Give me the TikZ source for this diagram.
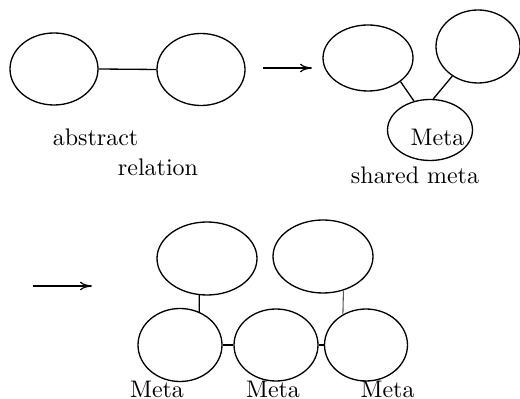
\documentclass[tikz,border=0pt]{standalone}
\usetikzlibrary{shapes.geometric,arrows.meta}
\def\pxu{0.417pt}
\tikzset{
  oval/.style 2 args={ellipse, draw, line width=0.55pt, inner sep=0pt,
    minimum width=#1*\pxu, minimum height=#2*\pxu},
  link/.style={line width=0.55pt},
  faint/.style={line width=0.45pt, black!65},
  step arrow/.style={line width=0.5pt, -{To[length=5pt, width=3.6pt]}},
  txt/.style={inner sep=0pt, font=\normalsize},
}
\begin{document}
\begin{tikzpicture}[x=\pxu, y=-\pxu]
  \useasboundingbox (0,0) rectangle (520,399);

  % abstract relation between two objects
  \node[oval={88}{72}] (a1) at (54,69) {};
  \node[oval={88}{72}] (a2) at (201,69.5) {};
  \draw[link] (a1.east) -- (a2.west);
  \node[txt] (abs) at (95.5,137) {abstract};
  \node[txt] (rel) at (158,167) {relation};

  \coordinate (r1s) at (263,68);
  \coordinate (r1e) at (312,68);
  \draw[step arrow] (r1s) -- (r1e);

  % both objects share one meta object
  \node[oval={90}{66}] (b1) at (368,58) {};
  \node[oval={84}{73}] (b2) at (478,46.5) {};
  \node[oval={85}{61}] (bm) at (430,130) {};
  \node[txt] (bmt) at (437.5,137) {Meta};
  \draw[link] (b1.-36) -- (bm.119);
  \draw[link] (b2.229.5) -- (bm.84);
  \node[txt] (shr) at (415,175) {shared meta};

  \coordinate (r2s) at (33,286);
  \coordinate (r2e) at (92,286);
  \draw[step arrow] (r2s) -- (r2e);

  % each object with its own meta object, metas linked in a chain
  \node[oval={100}{73}] (c1) at (207,258.5) {};
  \node[oval={100}{73}] (c2) at (323,256.5) {};
  \node[oval={84}{73}] (m1) at (180,345) {};
  \node[oval={84}{72}] (m2) at (276,345) {};
  \node[oval={83}{72}] (m3) at (366,345) {};
  \draw[link] (c1.-102) -- (m1.60);
  \draw[faint] (c2.-59.2) -- (m3.127.5);
  \draw[link] (m1.east) -- (m2.west);
  \draw[link] (m2.east) -- (m3.west);
  \node[txt] (l1) at (157,389.5) {Meta};
  \node[txt] (l2) at (273,389.5) {Meta};
  \node[txt] (l3) at (387.5,389.5) {Meta};
\end{tikzpicture}
\end{document}
